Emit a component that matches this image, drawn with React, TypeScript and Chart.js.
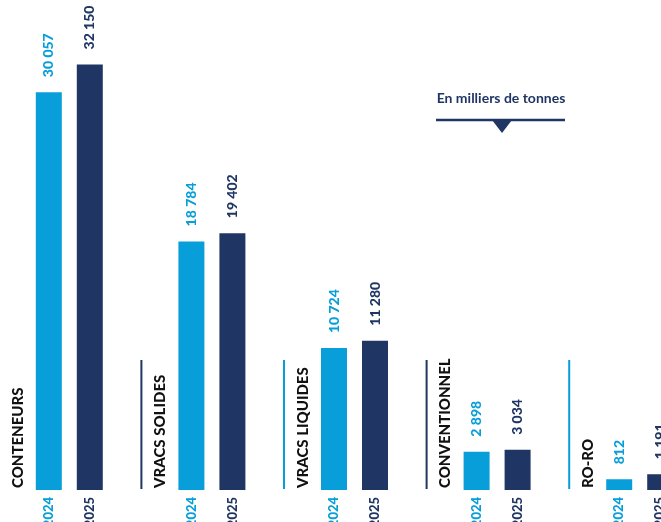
import React, { useEffect, useRef } from "react";
import { Chart, registerables } from "chart.js";

Chart.register(...registerables);

const BLUE = "#089ed9";
const NAVY = "#1f3664";

const categories = ["CONTENEURS", "VRACS SOLIDES", "VRACS LIQUIDES", "CONVENTIONNEL", "RO-RO"];
const years = ["2024", "2025"];
const values2024 = [30057, 18784, 10724, 2898, 812];
const values2025 = [32150, 19402, 11280, 3034, 1191];
const separatorColors: (string | null)[] = [null, NAVY, BLUE, NAVY, BLUE];
const unitLabel = "En milliers de tonnes";

const fmt = (v: number) => {
  const s = String(v);
  return s.length > 3 ? s.slice(0, s.length - 3) + " " + s.slice(-3) : s;
};

function drawRot(
  ctx: CanvasRenderingContext2D,
  text: string,
  x: number,
  y: number,
  align: CanvasTextAlign,
  color: string,
  font: string
) {
  ctx.save();
  ctx.translate(x, y);
  ctx.rotate(-Math.PI / 2);
  ctx.textAlign = align;
  ctx.textBaseline = "middle";
  ctx.fillStyle = color;
  ctx.font = font;
  ctx.fillText(text, 0, 0);
  ctx.restore();
}

const decoPlugin = {
  id: "deco",
  afterDatasetsDraw(chart: any) {
    const ctx: CanvasRenderingContext2D = chart.ctx;
    const m0 = chart.getDatasetMeta(0);
    const m1 = chart.getDatasetMeta(1);
    const base = chart.scales.y.getPixelForValue(0);
    const colors = [BLUE, NAVY];
    const series = [values2024, values2025];
    ctx.save();
    categories.forEach((cat, i) => {
      [m0, m1].forEach((m, d) => {
        const bar = m.data[i];
        drawRot(ctx, fmt(series[d][i]), bar.x, bar.y - 15, "left", colors[d], "900 14px Lato");
        drawRot(ctx, years[d], bar.x, base + 7, "right", colors[d], "900 13px Lato");
      });
      const b0 = m0.data[i];
      drawRot(ctx, cat, b0.x - 31, base - 2, "left", "#111111", "900 15px Lato");
      const sc = separatorColors[i];
      if (sc) {
        ctx.strokeStyle = sc;
        ctx.lineWidth = 2;
        ctx.beginPath();
        ctx.moveTo(b0.x - 50, base - 1);
        ctx.lineTo(b0.x - 50, base - 130);
        ctx.stroke();
      }
    });
    // unit annotation
    ctx.fillStyle = NAVY;
    ctx.font = "700 14px Lato";
    ctx.textAlign = "center";
    ctx.textBaseline = "middle";
    ctx.fillText(unitLabel, 503, 98);
    ctx.strokeStyle = NAVY;
    ctx.lineWidth = 2.5;
    ctx.beginPath();
    ctx.moveTo(438, 120);
    ctx.lineTo(567, 120);
    ctx.stroke();
    ctx.beginPath();
    ctx.moveTo(494, 120);
    ctx.lineTo(514, 120);
    ctx.lineTo(504, 133);
    ctx.closePath();
    ctx.fill();
    ctx.restore();
  },
};

export default function App() {
  const ref = useRef<HTMLCanvasElement>(null);
  useEffect(() => {
    if (!ref.current) return;
    const chart = new Chart(ref.current, {
      type: "bar",
      data: {
        labels: categories,
        datasets: [
          { label: years[0], data: values2024, backgroundColor: BLUE },
          { label: years[1], data: values2025, backgroundColor: NAVY },
        ],
      },
      options: {
        animation: false,
        responsive: true,
        maintainAspectRatio: false,
        datasets: {
          bar: { categoryPercentage: 0.575, barPercentage: 0.634 },
        },
        layout: { padding: { top: 40, bottom: 32, left: 0, right: 0 } },
        plugins: { legend: { display: false }, tooltip: { enabled: false } },
        scales: {
          x: { display: false, offset: true, grid: { display: false } },
          y: { display: false, min: 0, max: 34000, grid: { display: false } },
        },
      },
      plugins: [decoPlugin],
    });
    return () => chart.destroy();
  }, []);
  return (
    <div
      style={{
        position: "fixed",
        left: 0,
        top: 0,
        width: 661,
        height: 522,
        overflow: "hidden",
        background: "#ffffff",
      }}
    >
      <div style={{ position: "absolute", left: -2, top: 0, width: 713, height: 522 }}>
        <canvas ref={ref} />
      </div>
    </div>
  );
}
